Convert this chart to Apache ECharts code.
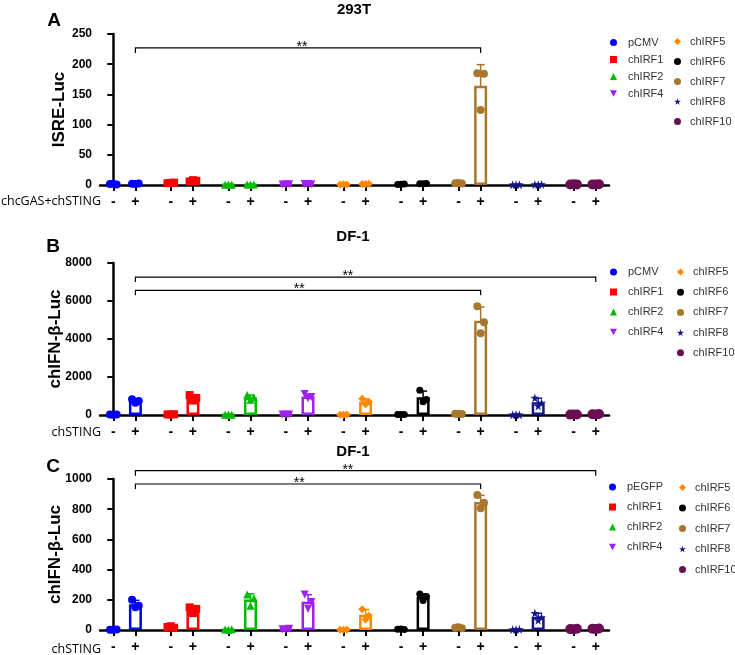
<!DOCTYPE html>
<html>
<head>
<meta charset="utf-8">
<title>IRF reporter assays</title>
<script src="https://cdn.jsdelivr.net/npm/echarts@6/dist/echarts.min.js"></script>
<style>
html, body { margin: 0; padding: 0; background: #fff; }
#chart { width: 735px; height: 655px; }
</style>
</head>
<body>
<div id="chart"></div>
<script>
// groups on the x axis, each with a "-" and a "+" bar
const groupsAB = ["pCMV", "chIRF1", "chIRF2", "chIRF4", "chIRF5", "chIRF6", "chIRF7", "chIRF8", "chIRF10"];
const groupsC = ["pEGFP", "chIRF1", "chIRF2", "chIRF4", "chIRF5", "chIRF6", "chIRF7", "chIRF8", "chIRF10"];
const signLabels = ["-", "+"];
const yTicksA = [0, 250, 50];
const yTicksB = [0, 8000, 2000];
const yTicksC = [0, 1000, 200];

// replicates (3 per bar), one row per group
// A: 293T, ISRE-Luc
const isreNeg = [[1.5, 1, 2], [3, 4, 3.5], [0.5, 0.3, 0.8], [1, 1.2, 0.8], [0.8, 1, 1.2], [1, 1.5, 1.2], [3, 2.5, 3.5], [0.4, 0.6, 0.5], [0.8, 1, 1.2]];
const isrePos = [[2, 2.5, 1.8], [6, 7, 8], [0.8, 1, 0.7], [1.5, 1.2, 1.8], [1.5, 2, 1.7], [2.2, 2.5, 2], [185, 184, 124], [0.8, 1, 0.6], [1, 1.2, 0.9]];
// B: DF-1, chIFN-b-Luc (pCMV)
const ifnNegB = [[20, 30, 15], [30, 40, 25], [10, 15, 20], [20, 25, 15], [15, 20, 10], [20, 30, 25], [60, 50, 70], [10, 15, 20], [20, 30, 25]];
const ifnPosB = [[830, 740, 640], [1050, 900, 760], [1050, 930, 800], [1100, 950, 880], [850, 700, 560], [1300, 820, 700], [5720, 4880, 4300], [900, 640, 480], [40, 50, 30]];
// C: DF-1, chIFN-b-Luc (pEGFP)
const ifnNegC = [[2, 3, 1], [20, 15, 25], [3, 5, 2], [5, 8, 4], [2, 3, 1], [5, 4, 6], [15, 12, 18], [3, 5, 4], [6, 8, 5]];
const ifnPosC = [[200, 160, 150], [150, 140, 112], [235, 210, 160], [235, 185, 140], [138, 95, 70], [238, 222, 196], [894, 843, 806], [112, 85, 65], [8, 10, 6]];

// significance brackets: [from group, to group, y value, x of the stars]
const sigA = [[0, 6, 227, 8.53]];
const sigB = [[0, 8, 7260, 10.6], [0, 6, 6560, 8.4]];
const sigC = [[0, 8, 1055, 10.6], [0, 6, 967, 8.4]];

const colors = ["#0000ff", "#ff0000", "#00bb00", "#a020f0", "#ff8800", "#000000", "#a8772c", "#15158a", "#6a0d52"];
const starPath = "path://M50,0 L61,35 L98,35 L68,57 L79,91 L50,70 L21,91 L32,57 L2,35 L39,35 Z";
const downTri = "path://M0,0 L10,0 L5,9 Z";
const symbols = ["circle", "rect", "triangle", downTri, "diamond", "circle", "circle", starPath, "circle"];
const symbolSizes = [8, 8, 8, 8, 8, 7, 8, 9, 10];
const jitter = [-0.15, 0.15, 0];

const groupStep = 2.6;
const xOf = (g, s) => g * groupStep + s;
const tickPos = [];
groupsAB.forEach((n, g) => { tickPos.push(xOf(g, 0), xOf(g, 1)); });

const mean = (a) => a.reduce((s, v) => s + v, 0) / a.length;
const stdev = (a) => {
  const m = mean(a);
  return Math.sqrt(a.reduce((s, v) => s + (v - m) * (v - m), 0) / (a.length - 1));
};

const grids = [
  { left: 100, top: 34, width: 509, height: 151 },
  { left: 100, top: 263, width: 509, height: 152 },
  { left: 100, top: 479, width: 509, height: 151 },
];

function renderErr(params, api) {
  const x = api.value(0);
  const lo = api.coord([x, api.value(1)]);
  const hi = api.coord([x, api.value(2)]);
  const c = colors[api.value(3)];
  const st = { stroke: c, lineWidth: 1.5 };
  return {
    type: "group",
    children: [
      { type: "line", shape: { x1: hi[0], y1: hi[1], x2: lo[0], y2: lo[1] }, style: st },
      { type: "line", shape: { x1: hi[0] - 4, y1: hi[1], x2: hi[0] + 4, y2: hi[1] }, style: st },
      { type: "line", shape: { x1: lo[0] - 4, y1: lo[1], x2: lo[0] + 4, y2: lo[1] }, style: st },
    ],
  };
}

function renderSig(params, api) {
  const a = api.coord([api.value(0), api.value(2)]);
  const b = api.coord([api.value(1), api.value(2)]);
  const s = api.coord([api.value(3), api.value(2)]);
  return {
    type: "group",
    children: [
      {
        type: "polyline",
        shape: { points: [[a[0], a[1] + 5], [a[0], a[1]], [b[0], b[1]], [b[0], b[1] + 5]] },
        style: { stroke: "#000", lineWidth: 1.2, fill: null },
      },
      {
        type: "text",
        x: s[0], y: a[1] - 1,
        style: { text: "**", fontSize: 14, fontFamily: "Liberation Sans", fill: "#000", align: "center", verticalAlign: "middle" },
      },
    ],
  };
}

const xAxes = [], yAxes = [], series = [];

function buildPanel(i, neg, pos, names, ticks, yName, nameGap, sig) {
  xAxes.push({
    type: "value", gridIndex: i, min: -0.6, max: 22.4,
    splitLine: { show: false },
    axisLine: { lineStyle: { color: "#000", width: 2.5 } },
    axisTick: { customValues: tickPos, length: 6, lineStyle: { color: "#000", width: 2 } },
    axisLabel: {
      customValues: tickPos, margin: 10, color: "#000", fontSize: 14, fontWeight: "bold", fontFamily: "Liberation Sans",
      formatter: (v) => signLabels[tickPos.findIndex((p) => Math.abs(p - v) < 1e-6) % 2],
    },
  });
  yAxes.push({
    type: "value", gridIndex: i, min: ticks[0], max: ticks[1], interval: ticks[2],
    name: yName, nameLocation: "middle", nameGap: nameGap, nameMoveOverlap: false,
    nameTextStyle: { fontSize: 17, fontWeight: "bold", fontFamily: "Liberation Sans", color: "#000" },
    splitLine: { show: false },
    axisLine: { show: true, lineStyle: { color: "#000", width: 2.5 } },
    axisTick: { show: true, length: 6, lineStyle: { color: "#000", width: 2 } },
    axisLabel: {
      margin: 8, color: "#000", fontSize: 12, fontWeight: "bold", fontFamily: "Liberation Sans",
      formatter: (v) => String(v),
    },
  });

  const bars = [], errs = [];
  const pts = names.map(() => []);
  names.forEach((n, g) => {
    [neg[g], pos[g]].forEach((reps, s) => {
      const x = xOf(g, s);
      const m = mean(reps), sd = stdev(reps);
      bars.push({ value: [x, m], itemStyle: { borderColor: colors[g] } });
      errs.push([x, m - sd, m + sd, g]);
      reps.forEach((v, k) => pts[g].push([x + jitter[k], v]));
    });
  });

  series.push({
    type: "bar", xAxisIndex: i, yAxisIndex: i, barWidth: 13, data: bars,
    itemStyle: { color: "#fff", borderWidth: 2.5 },
  });
  series.push({
    type: "custom", xAxisIndex: i, yAxisIndex: i, renderItem: renderErr, data: errs, clip: false,
  });
  names.forEach((n, g) => {
    series.push({
      type: "scatter", name: n, xAxisIndex: i, yAxisIndex: i, data: pts[g],
      symbol: symbols[g], symbolSize: symbolSizes[g], itemStyle: { color: colors[g], opacity: 1 },
    });
  });
  series.push({
    type: "custom", xAxisIndex: i, yAxisIndex: i, renderItem: renderSig, clip: false, z: 5,
    data: sig.map((d) => [xOf(d[0], 1), xOf(d[1], 1), d[2], d[3]]),
  });
}

buildPanel(0, isreNeg, isrePos, groupsAB, yTicksA, "ISRE-Luc", 32, sigA);
buildPanel(1, ifnNegB, ifnPosB, groupsAB, yTicksB, "chIFN-\u03b2-Luc", 36, sigB);
buildPanel(2, ifnNegC, ifnPosC, groupsC, yTicksC, "chIFN-\u03b2-Luc", 36, sigC);

function legendCol(names, left, top, gap, pad) {
  return {
    data: names, orient: "vertical", left: left, top: top, itemGap: gap,
    itemWidth: 7, itemHeight: 7, selectedMode: false,
    textStyle: { fontSize: 11, color: "#333", fontFamily: "Liberation Sans", padding: [0, 0, 0, pad] },
  };
}
const legends = [
  legendCol(groupsAB.slice(0, 4), 605, 32, 6, 6),
  legendCol(groupsAB.slice(4), 669, 31, 9, 4),
  legendCol(groupsAB.slice(0, 4), 605, 261.5, 9, 6),
  legendCol(groupsAB.slice(4), 672, 261.5, 9.2, 4),
  legendCol(groupsC.slice(0, 4), 604, 476.5, 9, 6),
  legendCol(groupsC.slice(4), 674, 477, 9.5, 4),
];

function label(text, x, y, size, weight, align, family) {
  return {
    type: "text", x: x, y: y,
    style: { text: text, fontSize: size, fontWeight: weight, fill: "#000", align: align, verticalAlign: "middle", fontFamily: family || "Liberation Sans" },
  };
}
const graphics = [
  label("A", 54, 21, 19, "bold", "center"),
  label("293T", 354, 10, 15, "bold", "center"),
  label("chcGAS+chSTING", 101, 201, 12.5, "normal", "right", "Open Sans"),
  label("B", 53, 247, 19, "bold", "center"),
  label("DF-1", 353, 237, 15, "bold", "center"),
  label("chSTING", 101, 432, 12.5, "normal", "right", "Open Sans"),
  label("C", 53, 467, 19, "bold", "center"),
  label("DF-1", 353, 452, 15, "bold", "center"),
  label("chSTING", 101, 649, 12.5, "normal", "right", "Open Sans"),
];

const myChart = echarts.init(document.getElementById("chart"));
const option = {
  animation: false,
  backgroundColor: "#fff",
  grid: grids.map((g) => Object.assign({ outerBoundsMode: "none", containLabel: false }, g)),
  xAxis: xAxes,
  yAxis: yAxes,
  legend: legends,
  graphic: graphics,
  series: series,
};
myChart.setOption(option);
</script>
</body>
</html>
